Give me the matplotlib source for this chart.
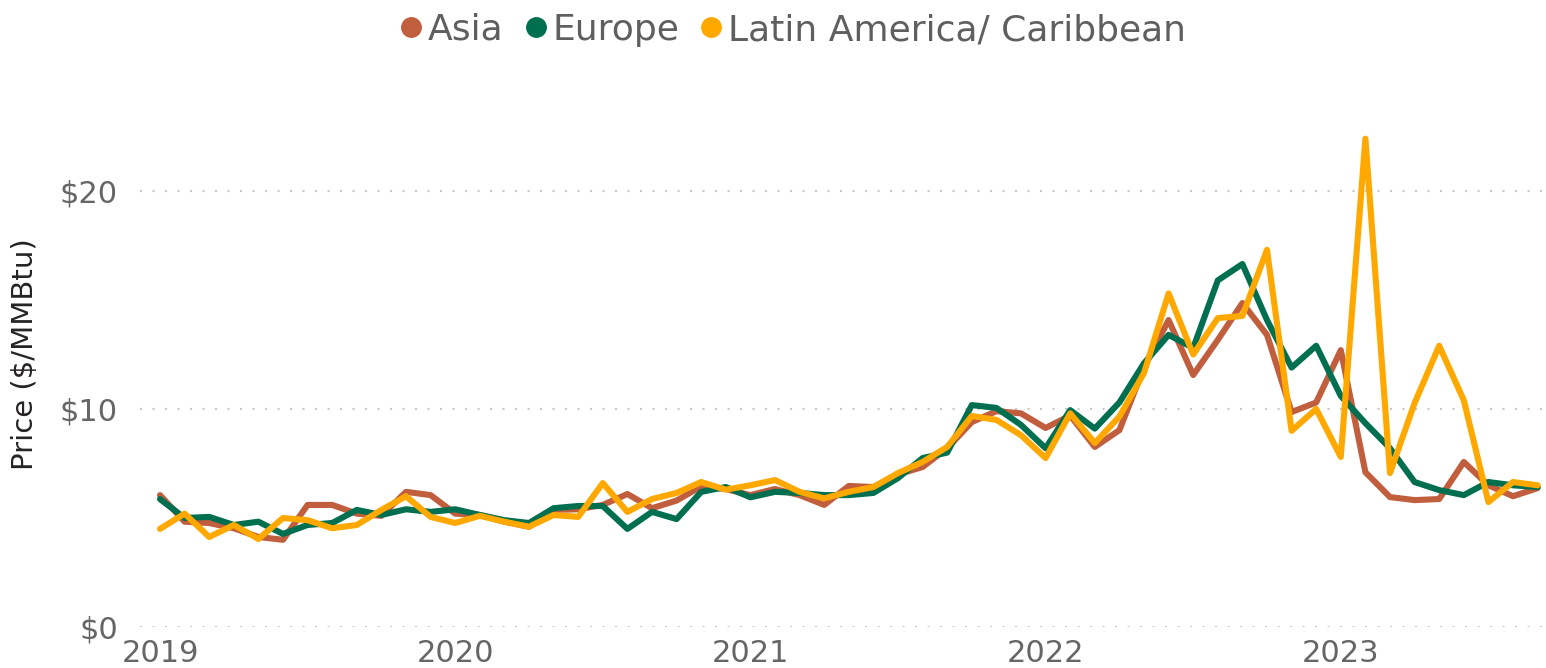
import numpy as np
import matplotlib.pyplot as plt
from matplotlib.lines import Line2D

# monthly prices, Jan 2019 .. Sep 2023
asia = [6.05, 4.83, 4.77, 4.53, 4.13, 4.0, 5.6, 5.6, 5.2, 5.1, 6.2, 6.05,
        5.2, 5.14, 4.83, 4.6, 5.37, 5.4, 5.6, 6.1, 5.45, 5.8, 6.45, 6.33,
        6.05, 6.33, 6.05, 5.6, 6.47, 6.42, 7.0, 7.34, 8.2, 9.4, 9.9, 9.8,
        9.13, 9.7, 8.26, 9.03, 11.9, 14.08, 11.56, 13.17, 14.86, 13.4, 9.86, 10.3,
        12.7, 7.1, 5.96, 5.82, 5.87, 7.57, 6.5, 6.0, 6.37]
europe = [5.87, 5.0, 5.05, 4.68, 4.83, 4.27, 4.68, 4.77, 5.37, 5.14, 5.4, 5.28,
          5.4, 5.14, 4.9, 4.77, 5.45, 5.55, 5.55, 4.5, 5.28, 4.95, 6.2, 6.42,
          5.95, 6.2, 6.15, 6.05, 6.05, 6.15, 6.83, 7.75, 8.0, 10.18, 10.05, 9.27,
          8.2, 9.95, 9.1, 10.3, 12.1, 13.4, 12.8, 15.9, 16.65, 14.08, 11.9, 12.9,
          10.6, 9.35, 8.2, 6.65, 6.28, 6.05, 6.65, 6.5, 6.42]
latam = [4.5, 5.2, 4.13, 4.68, 4.04, 5.0, 4.9, 4.53, 4.68, 5.37, 6.0, 5.05,
         4.77, 5.1, 4.83, 4.6, 5.14, 5.05, 6.6, 5.28, 5.87, 6.15, 6.65, 6.3,
         6.5, 6.74, 6.2, 5.9, 6.2, 6.42, 7.06, 7.57, 8.26, 9.68, 9.5, 8.8,
         7.75, 9.8, 8.44, 9.65, 11.65, 15.3, 12.5, 14.17, 14.27, 17.3, 9.0, 10.0,
         7.8, 22.4, 7.06, 10.27, 12.9, 10.4, 5.73, 6.65, 6.5]
names = ["Asia", "Europe", "Latin America/ Caribbean"]
colors = ["#C05E3D", "#006F50", "#FFA800"]
years = ["2019", "2020", "2021", "2022", "2023"]
yticks = [0, 10, 20]

months = np.arange(len(asia))

fig = plt.figure(figsize=(15.46, 6.68), dpi=100)
ax = fig.add_axes([140 / 1546, 41 / 668, 1 - 140 / 1546, 24 * 21.8 / 668])

for vals, c in zip([asia, europe, latam], colors):
    ax.plot(months, vals, color=c, lw=4.4, solid_joinstyle="round", solid_capstyle="round")

ax.set_xlim(-20 / 24.6, 56 + 8.4 / 24.6)
ax.set_ylim(0, 24)
ax.set_xticks([12 * i for i in range(len(years))])
ax.set_xticklabels(years)
ax.set_yticks(yticks)
ax.set_yticklabels(["$" + str(v) for v in yticks])
ax.tick_params(length=0, labelsize=22, labelcolor="#666666")
ax.tick_params(axis="x", pad=9)
ax.tick_params(axis="y", pad=16)
ax.grid(axis="y", color="#c8c8c8", lw=1.5, ls=(0, (1, 5)))
ax.set_axisbelow(True)
for s in ax.spines.values():
    s.set_visible(False)

fig.text(25 / 1546, 0.47, "Price ($/MMBtu)", rotation=90, ha="center", va="center",
         fontsize=21, color="#252423")

handles = [Line2D([], [], ls="none", marker="o", ms=14, color=c) for c in colors]
fig.legend(handles, names, loc="center", bbox_to_anchor=(0.513, 1 - 30 / 668), ncol=3,
           frameon=False, fontsize=26, labelcolor="#5f5f5f", handlelength=0.6,
           handletextpad=0.15, columnspacing=0.6, borderpad=0)

fig.savefig("out.png", dpi=100)
